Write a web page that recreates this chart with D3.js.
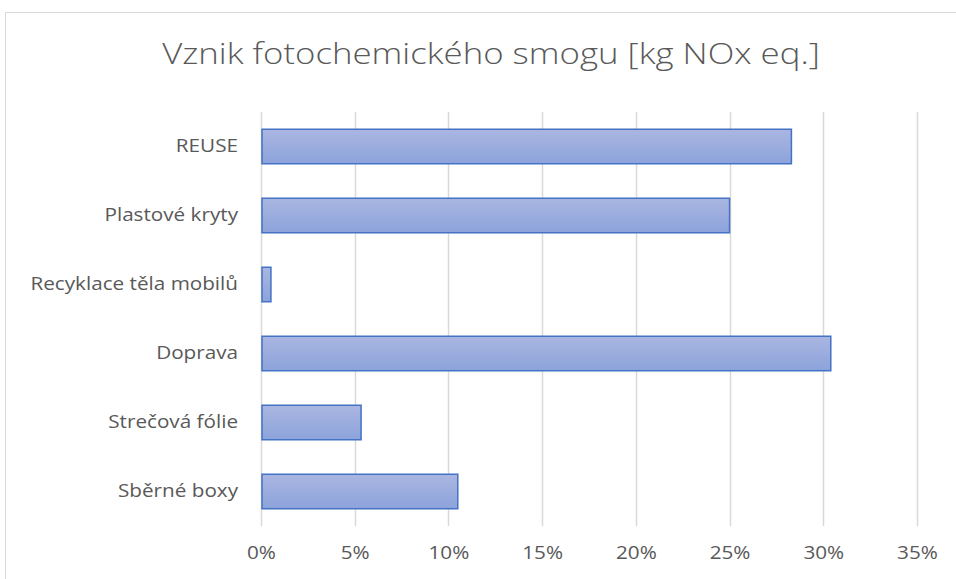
<!DOCTYPE html>
<html>
<head>
<meta charset="utf-8">
<script src="https://cdn.jsdelivr.net/npm/d3@7"></script>
<style>
  body { margin: 0; background: #fff; }
  text { font-family: "Open Sans", sans-serif; fill: #595959; }
</style>
</head>
<body>
<svg id="chart" width="956" height="579"></svg>
<script>
const categories = ['REUSE', 'Plastové kryty', 'Recyklace těla mobilů', 'Doprava', 'Strečová fólie', 'Sběrné boxy'];
const values = [0.283, 0.250, 0.0053, 0.304, 0.0534, 0.105];
const ticks = [0, 0.05, 0.10, 0.15, 0.20, 0.25, 0.30, 0.35];
const title = 'Vznik fotochemického smogu [kg NOx eq.]';

const svg = d3.select('#chart');
// the reference type is wider than Open Sans, stretch it a bit
const stretch = 1.15;
const titleStretch = 1.16;

// chart frame
svg.append('rect')
  .attr('x', 5.5)
  .attr('y', 12.5)
  .attr('width', 1000)
  .attr('height', 700)
  .attr('fill', '#fff')
  .attr('stroke', '#d9d9d9');

const defs = svg.append('defs');
const grad = defs.append('linearGradient')
  .attr('id', 'barFill')
  .attr('x1', 0).attr('y1', 0)
  .attr('x2', 0).attr('y2', 1);
grad.append('stop').attr('offset', '0%').attr('stop-color', '#aab6e1');
grad.append('stop').attr('offset', '100%').attr('stop-color', '#8ca3db');

const x = d3.scaleLinear()
  .domain([0, 0.35])
  .range([261, 917]);

const y = d3.scaleBand()
  .domain(categories)
  .range([112, 526])
  .paddingInner(0.5)
  .paddingOuter(0.25);

// gridlines
svg.append('g')
  .selectAll('line')
  .data(ticks)
  .enter()
  .append('line')
  .attr('x1', d => Math.round(x(d)) + 0.5)
  .attr('x2', d => Math.round(x(d)) + 0.5)
  .attr('y1', 112)
  .attr('y2', 526)
  .attr('stroke', '#d9d9d9')
  .attr('stroke-width', 1.5);

// bars
svg.append('g')
  .selectAll('rect')
  .data(categories.map((c, i) => ({ name: c, value: values[i] })))
  .enter()
  .append('rect')
  .attr('x', x(0) + 1)
  .attr('y', d => y(d.name))
  .attr('width', d => x(d.value) - x(0) - 1)
  .attr('height', y.bandwidth())
  .attr('fill', 'url(#barFill)')
  .attr('stroke', '#4472c4')
  .attr('stroke-width', 1.5);

// x axis labels
const xAxis = svg.append('g')
  .attr('transform', 'translate(0,526)')
  .call(d3.axisBottom(x).tickValues(ticks).tickFormat(d3.format('.0%')).tickSize(0).tickPadding(20));
xAxis.select('.domain').remove();
xAxis.selectAll('text')
  .attr('font-size', 18)
  .attr('font-family', '"Open Sans", sans-serif')
  .attr('fill', '#707070')
  .attr('x', 0)
  .attr('transform', `scale(${stretch},1)`);

// y axis labels
const yAxis = svg.append('g')
  .attr('transform', 'translate(261,0)')
  .call(d3.axisLeft(y).tickSize(0).tickPadding(23));
yAxis.select('.domain').remove();
yAxis.selectAll('text')
  .attr('font-size', 18)
  .attr('font-family', '"Open Sans", sans-serif')
  .attr('fill', '#707070')
  .attr('x', -23 / stretch)
  .attr('transform', `scale(${stretch},1)`);

// title
svg.append('text')
  .attr('x', 491 / titleStretch)
  .attr('y', 64)
  .attr('transform', `scale(${titleStretch},1)`)
  .attr('text-anchor', 'middle')
  .attr('font-size', 30)
  .attr('font-weight', 300)
  .attr('fill', '#595959')
  .text(title);
</script>
</body>
</html>
